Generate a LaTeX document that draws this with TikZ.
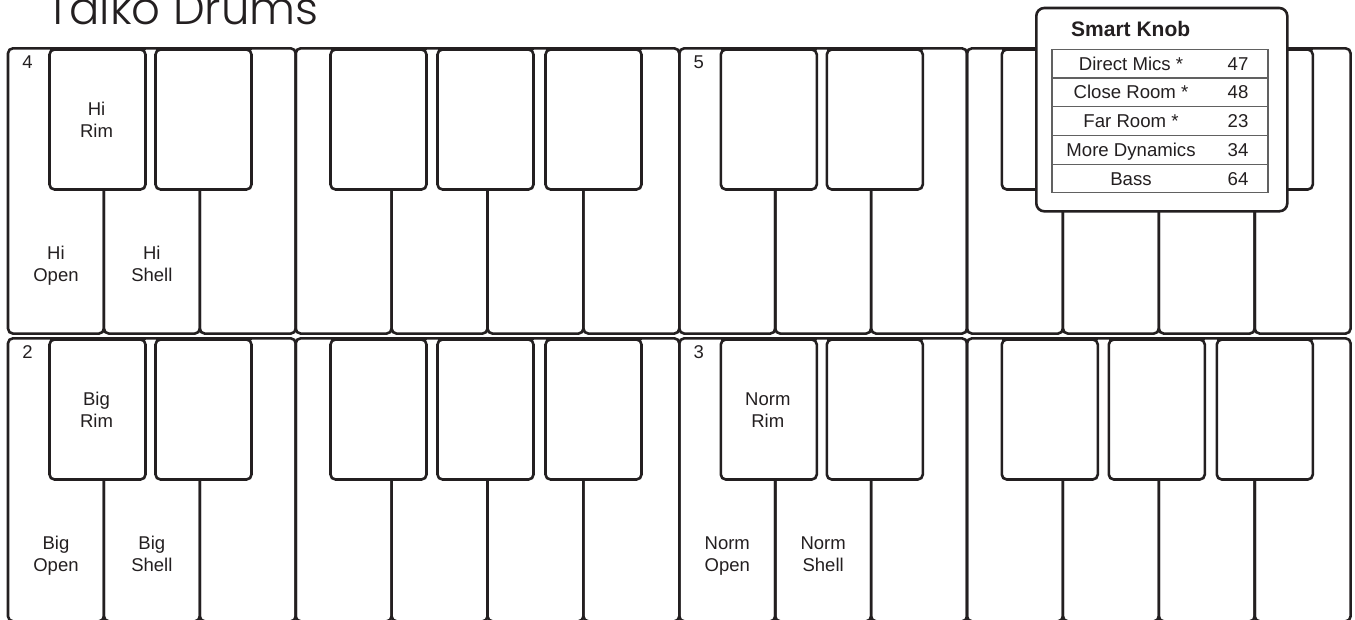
\documentclass[tikz,border=0pt]{standalone}
\usepackage{fontspec}
\setmainfont{Liberation Sans}
\IfFontExistsTF{Poppins Light}{\newfontfamily\titlefont{Poppins Light}}{\newfontfamily\titlefont{Poppins}}
\definecolor{ink}{HTML}{231F20}
\begin{document}
\begin{tikzpicture}[x=1pt,y=-1pt,
  keyline/.style={draw=ink, line width=2.6pt},
  wkey/.style={keyline, rounded corners=5pt, minimum width=95.9pt, inner sep=0pt, outer sep=0pt, anchor=north west},
  bkey/.style={keyline, fill=white, rounded corners=5pt, minimum width=96pt, minimum height=140pt, inner sep=0pt, outer sep=0pt, anchor=north west},
  lbl/.style={font=\fontsize{18.5}{21.8}\selectfont, text=ink, align=center, anchor=north, inner sep=0pt},
  cell/.style={draw=black!62, line width=1.2pt, minimum width=216pt, minimum height=28.7pt, inner sep=0pt, outer sep=0pt, anchor=north west},
  ctext/.style={font=\fontsize{18.6}{21.8}\selectfont, text=ink, anchor=base, inner sep=0pt}]
\useasboundingbox (0,0) rectangle (1355,619);
\clip (0,0) rectangle (1355,619);
% title
\node[font=\titlefont\fontsize{45}{50}\selectfont, anchor=base west, inner sep=0pt, text=ink] (title) at (46,24) {Taiko Drums};
% white keys
\foreach \r/\yt/\h in {0/48.3/285.3, 1/338.3/283} {
  \foreach \o in {0,1} {
    \foreach \k in {0,...,6} {
      \node[wkey, minimum height=\h pt] (w-\r-\o-\k) at ({8+95.9*(7*\o+\k)}, \yt) {};
    }
  }
}
% black keys
\foreach \r/\yt in {0/48.3, 1/338.3} {
  \foreach \o in {0,1} {
    \foreach \b/\off in {1/41.5, 2/147.5, 3/322.5, 4/429.5, 5/537.5} {
      \node[bkey] (b-\r-\o-\b) at ({8+95.9*7*\o+\off}, {\yt+1.2}) {};
      \draw[keyline] ([yshift=1.2pt]b-\r-\o-\b.north west) -- ([yshift=1.2pt]b-\r-\o-\b.north east);
    }
  }
}
% octave numbers
\node[lbl] (n4) at ([xshift=19.5pt,yshift=-7.5pt]w-0-0-0.north west) {4};
\node[lbl] (n5) at ([xshift=19.5pt,yshift=-7.5pt]w-0-1-0.north west) {5};
\node[lbl] (n2) at ([xshift=19.5pt,yshift=-7.5pt]w-1-0-0.north west) {2};
\node[lbl] (n3) at ([xshift=19.5pt,yshift=-7.5pt]w-1-1-0.north west) {3};
% labels
\node[lbl] (hirim) at ([xshift=-1pt,yshift=-52.8pt]b-0-0-1.north) {Hi\\Rim};
\node[lbl] (hiopen) at ([yshift=-198pt]w-0-0-0.north) {Hi\\Open};
\node[lbl] (hishell) at ([yshift=-198pt]w-0-0-1.north) {Hi\\Shell};
\node[lbl] (bigrim) at ([xshift=-1pt,yshift=-52.8pt]b-1-0-1.north) {Big\\Rim};
\node[lbl] (bigopen) at ([yshift=-198pt]w-1-0-0.north) {Big\\Open};
\node[lbl] (bigshell) at ([yshift=-198pt]w-1-0-1.north) {Big\\Shell};
\node[lbl] (normrim) at ([xshift=-1pt,yshift=-52.8pt]b-1-1-1.north) {Norm\\Rim};
\node[lbl] (normopen) at ([yshift=-198pt]w-1-1-0.north) {Norm\\Open};
\node[lbl] (normshell) at ([yshift=-198pt]w-1-1-1.north) {Norm\\Shell};
% smart knob panel
\node[draw=ink, fill=white, line width=2.6pt, rounded corners=8pt, anchor=north west, minimum width=251pt, minimum height=203.3pt, inner sep=0pt] (knob) at (1035,6.7) {};
\node[font=\bfseries\fontsize{21}{24}\selectfont, anchor=base west, inner sep=0pt, text=ink] (knobtitle) at (1071,36.2) {Smart Knob};
\foreach \i/\nm/\val in {0/Direct Mics */47, 1/Close Room */48, 2/Far Room */23, 3/More Dynamics/34, 4/Bass/64} {
  \node[cell] (row\i) at (1052, {49.3+28.7*\i}) {};
  \node[ctext] (name\i) at (1131, {49.3+28.7*\i+14.35+6.6}) {\nm};
  \node[ctext] (val\i) at (1238, {49.3+28.7*\i+14.35+6.6}) {\val};
}
\end{tikzpicture}
\end{document}
